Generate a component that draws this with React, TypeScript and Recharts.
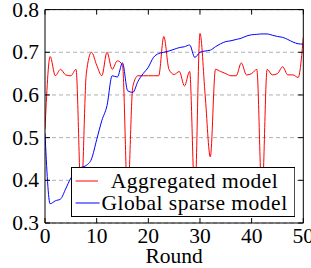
import React from 'react';
import { LineChart, Line, XAxis, YAxis, CartesianGrid, Legend } from 'recharts';

const rounds = [0, 1, 2, 3, 4, 5, 6, 7, 8, 9, 10, 11, 12, 13, 14, 15, 16, 17, 18, 19, 20, 21, 22, 23, 24, 25, 26, 27, 28, 29, 30, 31, 32, 33, 34, 35, 36, 37, 38, 39, 40, 41, 42, 43, 44, 45, 46, 47, 48, 49, 50];

const aggregated = [0.52, 0.69, 0.645, 0.66, 0.647, 0.645, 0.66, 0.36, 0.65, 0.70, 0.67, 0.645, 0.70, 0.66, 0.68, 0.67, 0.36, 0.62, 0.645, 0.645, 0.645, 0.645, 0.645, 0.737, 0.66, 0.648, 0.655, 0.621, 0.655, 0.36, 0.744, 0.60, 0.455, 0.66, 0.655, 0.65, 0.645, 0.645, 0.675, 0.647, 0.65, 0.66, 0.36, 0.66, 0.647, 0.65, 0.666, 0.647, 0.647, 0.641, 0.735];

const globalSparse = [0.51, 0.345, 0.352, 0.356, 0.38, 0.405, 0.42, 0.43, 0.435, 0.45, 0.495, 0.54, 0.575, 0.645, 0.642, 0.675, 0.61, 0.606, 0.632, 0.65, 0.665, 0.688, 0.697, 0.70, 0.703, 0.707, 0.711, 0.713, 0.717, 0.688, 0.70, 0.703, 0.705, 0.713, 0.72, 0.725, 0.727, 0.73, 0.733, 0.738, 0.741, 0.742, 0.743, 0.743, 0.74, 0.737, 0.735, 0.73, 0.724, 0.72, 0.719];

const xTicks = [0, 10, 20, 30, 40, 50];
const yTicks = [0.3, 0.4, 0.5, 0.6, 0.7, 0.8];
const seriesNames = ['Aggregated model', 'Global sparse model'];
const seriesColors = ['#ff0000', '#0000ff'];

const data = rounds.map((r, i) => ({ round: r, agg: aggregated[i], glob: globalSparse[i] }));

const FONT = 'Liberation Serif, Times New Roman, serif';
const TICK_LEN = 5;

const BottomTick = (p: any) => (
  <g>
    <text x={p.x} y={p.y + 20} textAnchor="middle" fontFamily={FONT} fontSize={21.5} fill="#000">
      {p.payload.value}
    </text>
    <line x1={p.x} x2={p.x} y1={p.y} y2={p.y - TICK_LEN} stroke="#000" strokeWidth={1} />
  </g>
);

const TopTick = (p: any) => (
  <line x1={p.x} x2={p.x} y1={p.y} y2={p.y + TICK_LEN} stroke="#000" strokeWidth={1} />
);

const LeftTick = (p: any) => (
  <g>
    <text x={p.x} y={p.y + 7} textAnchor="end" fontFamily={FONT} fontSize={21.5} fill="#000">
      {Number(p.payload.value).toFixed(1)}
    </text>
    <line x1={p.x + 6} x2={p.x + 6 + TICK_LEN} y1={p.y} y2={p.y} stroke="#000" strokeWidth={1} />
  </g>
);

const RightTick = (p: any) => (
  <line x1={p.x} x2={p.x - TICK_LEN} y1={p.y} y2={p.y} stroke="#000" strokeWidth={1} />
);

const LegendBox = () => (
  <svg width={224.3} height={50} style={{ display: 'block' }}>
    <rect x={0.5} y={0.5} width={223.3} height={49} fill="#fff" stroke="#000" strokeWidth={1} />
    <line x1={4.6} x2={27} y1={14} y2={14} stroke={seriesColors[0]} strokeWidth={1} />
    <line x1={4.6} x2={28.6} y1={36} y2={36} stroke={seriesColors[1]} strokeWidth={1} />
    <text x={123.5} y={20.6} textAnchor="middle" fontFamily={FONT} fontSize={21.5} letterSpacing={0.5} fill="#000">
      {seriesNames[0]}
    </text>
    <text x={123.5} y={42.6} textAnchor="middle" fontFamily={FONT} fontSize={21.5} letterSpacing={0.5} fill="#000">
      {seriesNames[1]}
    </text>
  </svg>
);

export default function App() {
  return (
    <div style={{ position: 'absolute', left: 0, top: 0, fontFamily: FONT }}>
      <LineChart width={311} height={268} data={data} margin={{ top: 0, right: 0, bottom: 0, left: 0 }}>
        <CartesianGrid vertical={false} strokeDasharray="4 3" stroke="#b0b0b0" />
        <XAxis
          dataKey="round"
          type="number"
          domain={[0, 50]}
          ticks={xTicks}
          interval={0}
          allowDataOverflow
          height={45}
          tickSize={0}
          tickMargin={0}
          tickLine={false}
          axisLine={{ stroke: '#000' }}
          tick={BottomTick}
          label={{ value: 'Round', position: 'insideBottom', offset: 5, fontFamily: FONT, fontSize: 21.5, fill: '#000' }}
        />
        <XAxis
          xAxisId="top"
          orientation="top"
          dataKey="round"
          type="number"
          domain={[0, 50]}
          ticks={xTicks}
          interval={0}
          allowDataOverflow
          height={9.6}
          tickSize={0}
          tickMargin={0}
          tickLine={false}
          axisLine={{ stroke: '#000' }}
          tick={TopTick}
        />
        <YAxis
          type="number"
          domain={[0.3, 0.8]}
          ticks={yTicks}
          interval={0}
          allowDataOverflow
          width={45}
          tickSize={0}
          tickMargin={6}
          tickLine={false}
          axisLine={{ stroke: '#000' }}
          tick={LeftTick}
        />
        <YAxis
          yAxisId="right"
          orientation="right"
          type="number"
          domain={[0.3, 0.8]}
          ticks={yTicks}
          interval={0}
          allowDataOverflow
          width={7.7}
          tickSize={0}
          tickMargin={0}
          tickLine={false}
          axisLine={{ stroke: '#000' }}
          tick={RightTick}
        />
        <Line dataKey="agg" name={seriesNames[0]} type="monotone" stroke={seriesColors[0]} strokeWidth={1} dot={false} isAnimationActive={false} />
        <Line dataKey="glob" name={seriesNames[1]} type="monotone" stroke={seriesColors[1]} strokeWidth={1} dot={false} isAnimationActive={false} />
        <Legend
          layout="vertical"
          align="center"
          verticalAlign="middle"
          content={LegendBox}
          wrapperStyle={{ left: 70.7, top: 166.7, width: 224.3, height: 50, margin: 0, padding: 0 }}
        />
      </LineChart>
    </div>
  );
}
